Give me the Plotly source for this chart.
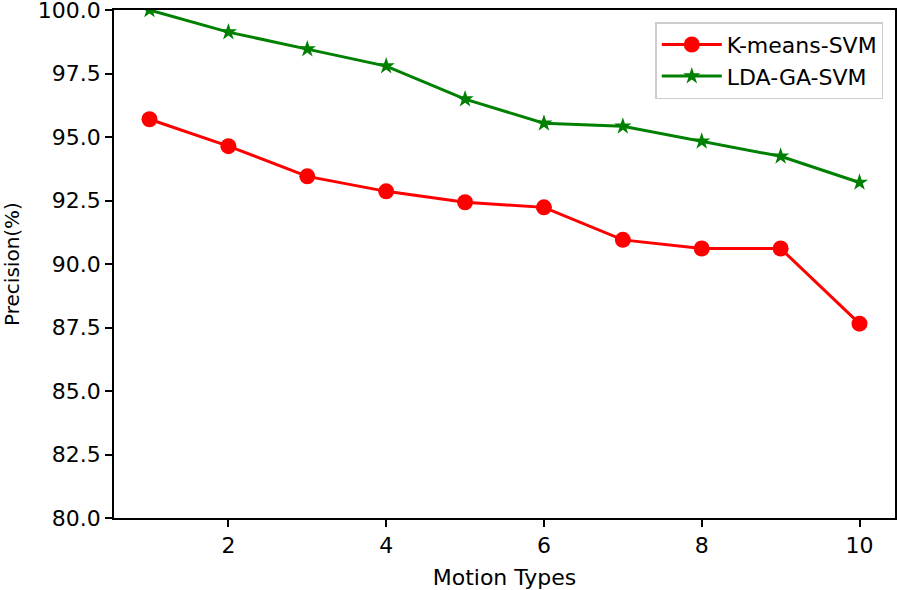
import plotly.graph_objects as go

motion_types = [1, 2, 3, 4, 5, 6, 7, 8, 9, 10]
kmeans_svm = [95.70, 94.64, 93.45, 92.86, 92.43, 92.23, 90.95, 90.61, 90.61, 87.65]
lda_ga_svm = [100.0, 99.13, 98.46, 97.79, 96.49, 95.54, 95.42, 94.83, 94.24, 93.21]
y_ticks = [80.0, 82.5, 85.0, 87.5, 90.0, 92.5, 95.0, 97.5, 100.0]
x_ticks = [2, 4, 6, 8, 10]

font_family = "DejaVu Sans"

fig = go.Figure()
fig.add_trace(go.Scatter(
    x=motion_types, y=kmeans_svm, mode="lines+markers", name="K-means-SVM",
    line=dict(color="red", width=3),
    marker=dict(symbol="circle", size=16, color="red"),
))
fig.add_trace(go.Scatter(
    x=motion_types, y=lda_ga_svm, mode="lines+markers", name="LDA-GA-SVM",
    line=dict(color="green", width=3),
    marker=dict(symbol="star", size=13, color="green"),
))

fig.update_layout(
    width=898, height=590,
    margin=dict(l=114, r=3, t=10, b=72),
    paper_bgcolor="white", plot_bgcolor="white",
    font=dict(family=font_family, size=22, color="black"),
    showlegend=True,
    legend=dict(
        x=0.985, y=0.976, xanchor="right", yanchor="top",
        bordercolor="#cccccc", borderwidth=1.5, bgcolor="rgba(255,255,255,0.8)",
        font=dict(size=22),
        itemwidth=60,
    ),
    xaxis=dict(
        range=[0.55, 10.45], tickvals=x_ticks, ticktext=[str(v) for v in x_ticks],
        showgrid=False, zeroline=False, showline=True, linecolor="black", linewidth=1.5,
        mirror=True, ticks="outside", ticklen=7, tickwidth=1.5, tickcolor="black",
        automargin=False, ticklabeloverflow="allow",
        tickfont=dict(size=22),
        title=dict(text="Motion Types", font=dict(size=22)),
    ),
    yaxis=dict(
        range=[80, 100.0001], tickvals=y_ticks, ticktext=[f"{v:.1f}" for v in y_ticks],
        showgrid=False, zeroline=False, showline=True, linecolor="black", linewidth=1.5,
        mirror=True, ticks="outside", ticklen=7, tickwidth=1.5, tickcolor="black",
        automargin=False, ticklabeloverflow="allow",
        tickfont=dict(size=22),
        title=dict(text="Precision(%)", font=dict(size=20)),
    ),
)

fig.write_html(
    "out.html",
    config={"displayModeBar": False},
    post_script="document.body.style.margin='0';document.body.style.padding='0';",
)
